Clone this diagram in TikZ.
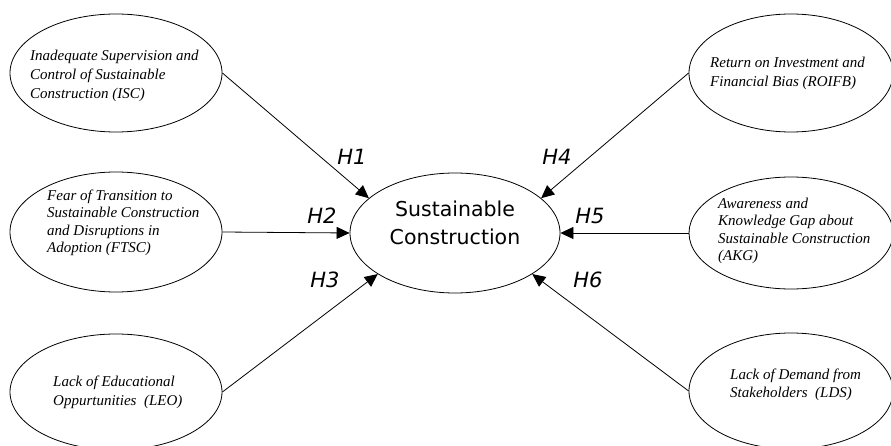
\documentclass[tikz,border=0pt]{standalone}
\usepackage{fontspec}
\setmainfont{Liberation Serif}
\newfontfamily\hfont{DejaVu Sans}
\usetikzlibrary{shapes.geometric,arrows.meta}
\begin{document}
\begin{tikzpicture}[x=1pt,y=-1pt,
  bubble/.style={draw, ellipse, line width=0.8pt, inner sep=0pt},
  txt/.style={font=\fontsize{15}{17.5}\selectfont\itshape, align=left, inner sep=0pt, anchor=west},
  hyp/.style={font=\hfont\itshape\fontsize{21}{21}\selectfont, inner sep=0pt},
  link/.style={line width=0.8pt, -{Triangle[length=13pt,width=12pt]}}]
\path[use as bounding box, fill=white] (0,0) rectangle (891,446);
% central construct
\node[bubble, minimum width=210pt, minimum height=120pt] (sc) at (455,233) {};
\node[font=\hfont\fontsize{20.5}{28}\selectfont, align=center, inner sep=0pt] (sct) at (455,223) {Sustainable\\Construction};
% left constructs
\node[bubble, minimum width=212pt, minimum height=118pt] (isc) at (116,73) {};
\node[bubble, minimum width=212pt, minimum height=120pt] (ftsc) at (116,232) {};
\node[bubble, minimum width=212pt, minimum height=116pt] (leo) at (116,392) {};
% right constructs
\node[bubble, minimum width=204pt, minimum height=118pt] (roifb) at (791,73) {};
\node[bubble, minimum width=204pt, minimum height=112pt] (akg) at (791,233) {};
\node[bubble, minimum width=204pt, minimum height=116pt] (lds) at (791,391) {};
% texts
\node[txt, font=\fontsize{15}{19}\selectfont\itshape] (isct) at (30,76) {Inadequate Supervision and\\Control of Sustainable\\Construction (ISC)};
\node[txt] (ftsct) at (47,223) {Fear of Transition to\\Sustainable Construction\\and Disruptions in\\Adoption (FTSC)};
\node[txt, font=\fontsize{15}{19}\selectfont\itshape] (leot) at (53,392) {Lack of Educational\\Oppurtunities\ \ (LEO)};
\node[txt, font=\fontsize{15}{19}\selectfont\itshape] (roifbt) at (710,73) {Return on Investment and\\Financial Bias (ROIFB)};
\node[txt] (akgt) at (718,231) {Awareness and\\Knowledge Gap about\\Sustainable Construction\\(AKG)};
\node[txt] (ldst) at (730,385) {Lack of Demand from\\Stakeholders\ \ (LDS)};
% connectors
\draw[link] (isc.east) -- (sc.158);
\draw[link] (ftsc.east) -- (sc.west);
\draw[link] (leo.east) -- (sc.208);
\draw[link] (roifb.west) -- (sc.22);
\draw[link] (akg.west) -- (sc.east);
\draw[link] (lds.west) -- (sc.-28);
% hypothesis labels
\node[hyp] (h1) at (352,157) {H1};
\node[hyp] (h2) at (322,216) {H2};
\node[hyp] (h3) at (325,280) {H3};
\node[hyp] (h4) at (557,157) {H4};
\node[hyp] (h5) at (590,216) {H5};
\node[hyp] (h6) at (588,280) {H6};
\end{tikzpicture}
\end{document}
